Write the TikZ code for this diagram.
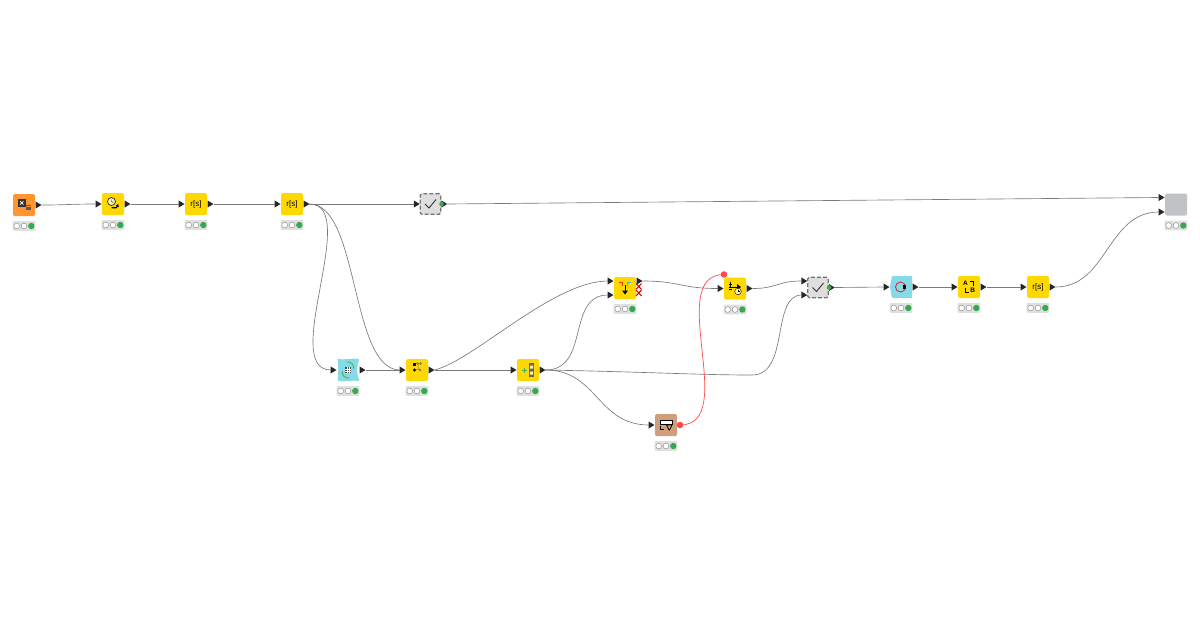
\documentclass[tikz,border=0pt]{standalone}
\usepackage{fontspec}
\setmainfont{Liberation Sans}
\usetikzlibrary{calc}
\definecolor{korange}{HTML}{FF9632}
\definecolor{kyellow}{HTML}{FFD800}
\definecolor{kcyan}{HTML}{86D9E6}
\definecolor{kbrown}{HTML}{CF9F7C}
\definecolor{kgray}{HTML}{C0C3C6}
\definecolor{kcheck}{HTML}{DEDEDE}
\definecolor{kgreen}{HTML}{35A94F}
\definecolor{kred}{HTML}{FF4B4B}
\definecolor{kline}{HTML}{7A7A7A}
\tikzset{
  x=1pt,y=-1pt,
  knode/.style={minimum size=22pt,inner sep=0pt,outer sep=0pt,rounded corners=1.5pt,fill=#1},
  ghost/.style={minimum size=22pt,inner sep=0pt,outer sep=0pt},
  checknode/.style={knode=kcheck,draw=black!55,dashed,dash pattern=on 4pt off 2pt,line width=1.3pt,minimum size=20.5pt},
  edge/.style={draw=kline,line width=0.65pt},
  redge/.style={draw=kred,line width=0.7pt},
  iconlabel/.style={inner sep=0pt,font=\fontsize{8}{8}\selectfont,text=black},
}
\newcommand{\inport}[3]{%
  \coordinate (#1) at ($(#2)+(-6,#3)$);
  \fill[black!85] ($(#2)+(-6.5,#3-3.6)$) -- ($(#2)+(-0.5,#3)$) -- ($(#2)+(-6.5,#3+3.6)$) -- cycle;}
\newcommand{\outport}[2]{%
  \coordinate (#1) at ($(#2)+(6.5,0)$);
  \fill[black!85] ($(#2)+(0.5,-3.6)$) -- ($(#2)+(6.5,0)$) -- ($(#2)+(0.5,3.6)$) -- cycle;}
\newcommand{\lights}[1]{%
  \fill[black!12,rounded corners=1pt] ($(#1)+(-11.3,16)$) rectangle ($(#1)+(11.3,25.8)$);
  \filldraw[fill=white,draw=black!45,line width=0.45pt] ($(#1)+(-7.3,21)$) circle (2.9);
  \filldraw[fill=white,draw=black!45,line width=0.45pt] ($(#1)+(0,21)$) circle (2.9);
  \fill[kgreen] ($(#1)+(7.3,21)$) circle (3.2);}
\begin{document}
\begin{tikzpicture}
\useasboundingbox (0,0) rectangle (1200,630);
\fill[white] (0,0) rectangle (1200,630);

% --- nodes
\node[knode=korange] (excel) at (24,205) {};
\node[knode=kyellow] (bell) at (113,204) {};
\node[knode=kyellow] (rs1) at (196,204) {};
\node[knode=kyellow] (rs2) at (292,204) {};
\node[checknode] (check1) at (430.5,204) {};
\node[knode=kgray] (final) at (1176,204.5) {};
\node[knode=kyellow] (join) at (625,288) {};
\node[knode=kyellow] (sorter) at (735,288.5) {};
\node[checknode] (check2) at (818,287.5) {};
\node[ghost] (loopend) at (901,287) {};
\node[knode=kyellow] (swap) at (969,287) {};
\node[knode=kyellow] (rs3) at (1038,287) {};
\node[ghost] (loopstart) at (348,370) {};
\node[knode=kyellow] (dots) at (417,370) {};
\node[knode=kyellow] (split) at (528,370) {};
\node[knode=kbrown] (view) at (666,425) {};

% --- loop shapes
\fill[kcyan,rounded corners=1pt] (337.5,359) .. controls (345,360) and (352,358) .. (359.5,359)
  .. controls (356.5,366) and (356.5,374) .. (359.5,381)
  .. controls (352,380) and (345,382) .. (337.5,381) .. controls (338.5,374) and (338.5,366) .. cycle;
\fill[kcyan,rounded corners=1pt] (892,276) -- (912,276) -- (912,298) -- (892,298) -- (890,287) -- cycle;

% --- lights
\foreach \n in {excel,bell,rs1,rs2,final,join,sorter,loopend,swap,rs3,loopstart,dots,split,view}{\lights{\n.center}}

% --- ports
\outport{excelo}{excel.east}
\inport{belli}{bell.west}{0}\outport{bello}{bell.east}
\inport{rs1i}{rs1.west}{0}\outport{rs1o}{rs1.east}
\inport{rs2i}{rs2.west}{0}\outport{rs2o}{rs2.east}
\inport{check1i}{check1.west}{0}\outport{check1o}{check1.east}
\inport{finala}{final.west}{-7}\inport{finalb}{final.west}{7.5}
\inport{joina}{join.west}{-7}\inport{joinb}{join.west}{7}\outport{joino}{$(join.east)+(0,-7)$}
\inport{sorteri}{sorter.west}{0}\outport{sortero}{sorter.east}
\inport{check2a}{check2.west}{-6.5}\inport{check2b}{check2.west}{7.5}\outport{check2o}{check2.east}
\inport{loopendi}{loopend.west}{0}\outport{loopendo}{loopend.east}
\inport{swapi}{swap.west}{0}\outport{swapo}{swap.east}
\inport{rs3i}{rs3.west}{0}\outport{rs3o}{rs3.east}
\inport{loopstarti}{loopstart.west}{0}\outport{loopstarto}{loopstart.east}
\inport{dotsi}{dots.west}{0}\outport{dotso}{dots.east}
\inport{spliti}{split.west}{0}\outport{splito}{split.east}
\inport{viewi}{view.west}{0}
\coordinate (viewo) at ($(view.east)+(3,0)$);
\coordinate (sorterflow) at ($(sorter.north west)+(0,-3)$);
\coordinate (bendb) at (752,375);

% --- connectors
\path[edge] (excelo) .. controls +(25,0) and +(-25,0) .. (belli);
\path[edge] (bello) -- (rs1i);
\path[edge] (rs1o) -- (rs2i);
\path[edge] (rs2o) -- (check1i);
\path[edge] (check1o) -- (finala);
\path[edge] (rs2o) .. controls +(52,0) and +(-52,0) .. (loopstarti);
\path[edge] (rs2o) .. controls +(50,0) and +(-50,0) .. (dotsi);
\path[edge] (loopstarto) -- (dotsi);
\path[edge] (dotso) -- (spliti);
\path[edge] (dotso) .. controls +(40,-10) and +(-55,0) .. (joina);
\path[edge] (splito) .. controls +(45,0) and +(-42,0) .. (joinb);
\path[edge] (splito) .. controls +(105,2) and +(-52,0) .. (bendb) .. controls +(38,0) and +(-31,0) .. (check2b);
\path[edge] (splito) .. controls +(52,0) and +(-52,0) .. (viewi);
\path[edge] (joino) .. controls +(38,0) and +(-38,0) .. (sorteri);
\path[edge] (sortero) .. controls +(25,0) and +(-25,0) .. (check2a);
\path[edge] (check2o) -- (loopendi);
\path[edge] (loopendo) -- (swapi);
\path[edge] (swapo) -- (rs3i);
\path[edge] (rs3o) .. controls +(52,0) and +(-52,0) .. (finalb);
\path[redge] (viewo) .. controls +(60,0) and +(-60,0) .. (sorterflow);
\fill[kred] (viewo) circle (3.3);
\fill[kred] (sorterflow) circle (3.3);
\fill[kgreen] (check1.east) ++(0.8,0) circle (2.3);
\fill[kgreen] (check2.east) ++(0.8,0) circle (2.3);

% --- icons
\begin{scope}[shift={(excel.center)}]
  \fill[black!80] (-6,-6) rectangle (1.5,1.5);
  \draw[white,line width=0.7pt] (-4,-4) -- (-0.5,-0.5) (-0.5,-4) -- (-4,-0.5);
  \foreach \a in {1.5,3.4,5.3}{\foreach \b in {-0.4,1.5,3.4}{\fill[black!65] (\a,\b) rectangle +(1.2,1.2);}}
\end{scope}
\begin{scope}[shift={(bell.center)}]
  \filldraw[fill=white!70!kyellow,draw=black!85,line width=0.7pt] (-1.5,-2.5) circle (4);
  \draw[black,line width=0.4pt] (-1.5,-4.5) -- (-1.5,-2.5) -- (0.3,-1.5);
  \draw[black,line width=1.2pt] (-1.5,3.8) -- (3,3.8) -- (5,1.5);
  \fill[black] (5.8,3.2) -- (5.2,0) -- (3,1.5) -- cycle;
\end{scope}
\node[iconlabel] (rs1t) at (rs1.center) {r[s]};
\node[iconlabel] (rs2t) at (rs2.center) {r[s]};
\node[iconlabel] (rs3t) at (rs3.center) {r[s]};
\foreach \c in {check1,check2}{
  \draw[black!80,line width=0.9pt] ($(\c.center)+(-5.5,0)$) -- ($(\c.center)+(-1.5,4)$) -- ($(\c.center)+(5.5,-4.5)$);
}
\begin{scope}[shift={(join.center)}]
  \draw[red!65!orange,line width=0.6pt] (-6,-6) -- (-2.5,-6) -- (-2.5,-2);
  \draw[cyan!60!gray,line width=0.6pt] (6,-6) -- (2.5,-6) -- (2.5,-2);
  \draw[black,line width=0.9pt] (0,-3) -- (0,3.5);
  \fill[black] (-3,2.5) -- (3,2.5) -- (0,6.5) -- cycle;
\end{scope}
\foreach \yy in {-1.5,5}{
  \draw[red!90!black,line width=1.1pt] ($(join.east)+(0,\yy-2.9)$) -- ($(join.east)+(5.5,\yy+2.9)$) ($(join.east)+(5.5,\yy-2.9)$) -- ($(join.east)+(0,\yy+2.9)$);
}
\begin{scope}[shift={(sorter.center)}]
  \draw[black,line width=0.8pt] (-6,-4) -- (-3,-4) (-6,1) -- (-3,1) (-4.5,-7) -- (-4.5,-1.5);
  \draw[black,line width=0.8pt] (-6,-1.5) -- (3,-1.5);
  \fill[black] (2,-4.5) -- (6,-1.5) -- (2,1.5) -- cycle;
  \draw[black,line width=0.4pt,fill=white!70!kyellow] (3,3) circle (3.3);
  \draw[black,line width=0.4pt] (3,1) -- (3,3) -- (4.5,3);
\end{scope}
\draw[red!80!black!85,line width=0.8pt] ($(loopend.center)+(-0.5,0)$) circle (5);
\fill[black] ($(loopend.center)+(2.2,-2)$) rectangle ($(loopend.center)+(5.2,1.5)$);
\begin{scope}[shift={(swap.center)}]
  \node[iconlabel,font=\fontsize{6.5}{6.5}\selectfont\bfseries] (swapa) at (-3.5,-3.5) {A};
  \node[iconlabel,font=\fontsize{6.5}{6.5}\selectfont\bfseries] (swapb) at (3.8,3.5) {B};
  \draw[black,line width=0.7pt] (0.5,-6) -- (4,-6) -- (4,-1.5);
  \draw[black,line width=0.7pt] (-0.5,5.5) -- (-4,5.5) -- (-4,1);
\end{scope}
\begin{scope}[shift={(loopstart.center)}]
  \draw[green!40!gray,line width=0.9pt] (-5.8,1) arc (190:80:5.9);
  \draw[green!40!gray,line width=0.9pt] (5.8,-1) arc (10:-100:5.9);
  \fill[black!70] (-2.6,-2.6) rectangle (2.6,2.6);
  \draw[white,line width=0.3pt] (-0.9,-2.6) -- (-0.9,2.6) (0.9,-2.6) -- (0.9,2.6) (-2.6,-0.9) -- (2.6,-0.9) (-2.6,0.9) -- (2.6,0.9);
\end{scope}
\begin{scope}[shift={(dots.center)}]
  \fill[black] (-3.8,-7) rectangle +(3,3);
  \fill[black] (-2.5,0) circle (1.6);
  \fill[black!55] (0.5,-6.5) circle (1.3) (3.5,-6.5) circle (1.3) (3,0) circle (1.3);
  \draw[black!60,line width=0.4pt] (1.7,-6) -- (1.7,-1) -- (-2.5,0);
\end{scope}
\begin{scope}[shift={(split.center)}]
  \draw[green!55!black!70,line width=0.7pt] (-6,0) -- (-1,0) (-3.5,-2.5) -- (-3.5,2.5);
  \fill[black!60] (1,-7) rectangle (6,7);
  \fill[white!70!kyellow] (2,-4.5) rectangle (5,-1.5) (2,1.5) rectangle (5,4.5);
\end{scope}
\begin{scope}[shift={(view.center)}]
  \filldraw[fill=white,draw=black,line width=0.8pt] (-6,-5) rectangle (6,-1);
  \draw[black,line width=0.8pt] (-5.5,0.5) -- (-5.5,4) -- (-2,4);
  \draw[black,line width=0.8pt] (0.5,0) -- (6,0) -- (3.5,5) -- (3,5) -- cycle;
\end{scope}
\end{tikzpicture}
\end{document}
